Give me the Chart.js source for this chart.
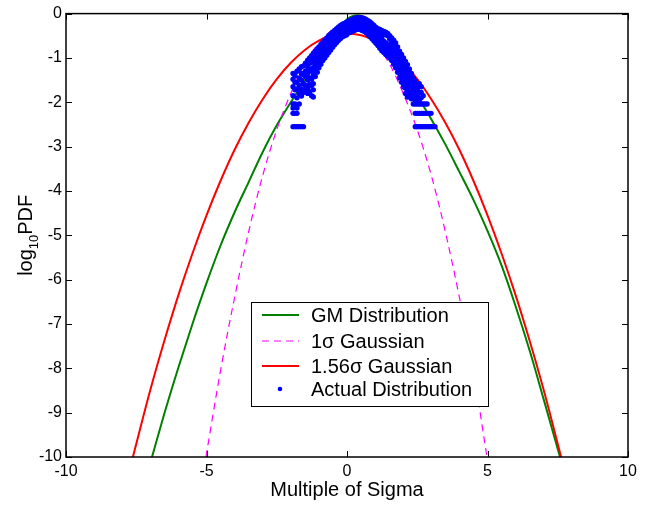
<!DOCTYPE html>
<html>
<head>
<meta charset="utf-8">
<title>log10 PDF vs multiple of sigma</title>
<script src="https://cdn.jsdelivr.net/npm/chart.js@4.4.1/dist/chart.umd.min.js"></script>
<style>
html,body{margin:0;padding:0;background:#fff;}
#wrap{width:652px;height:506px;}
</style>
</head>
<body>
<div id="wrap"><canvas id="chart" width="652" height="506"></canvas></div>
<script>
const xTicks=[-10,-5,0,5,10];
const yTicks=[0,-1,-2,-3,-4,-5,-6,-7,-8,-9,-10];

// GM distribution (green)
const gmX=[-6.94,-6.5,-6,-5.5,-5,-4.5,-4,-3.5,-3,-2.5,-2,-1.5,-1,-0.5,0,0.4,0.8,1.2,1.6,2,2.5,3,3.5,4,4.5,5,5.5,6,6.5,7,7.58];
const gmY=[-10,-9.02,-7.98,-7.0,-6.08,-5.23,-4.48,-3.8,-3.12,-2.52,-2.0,-1.5,-1.0,-0.5,-0.13,-0.04,-0.17,-0.5,-0.93,-1.35,-1.86,-2.38,-2.95,-3.57,-4.2,-4.9,-5.68,-6.6,-7.6,-8.7,-10];

// 1 sigma gaussian (magenta dashed)
const g1X=[-5.02,-4.5,-4,-3.5,-3,-2.5,-2,-1.5,-1,-0.5,0,0.5,1,1.5,2,2.5,3,3.5,4,4.5,4.98];
const g1Y=[-10,-8.05,-6.4,-4.92,-3.65,-2.62,-1.8,-1.12,-0.66,-0.36,-0.25,-0.36,-0.66,-1.12,-1.8,-2.62,-3.65,-4.92,-6.4,-8.05,-10];

// 1.56 sigma gaussian (red)
const g156X=[-7.62,-7,-6.5,-6,-5.5,-5,-4.5,-4,-3.5,-3,-2.5,-2,-1.5,-1,-0.5,0,0.5,1,1.5,2,2.5,3,3.5,4,4.5,5,5.5,6,6.5,7,7.62];
const g156Y=[-10,-8.49,-7.38,-6.35,-5.41,-4.55,-3.77,-3.07,-2.46,-1.93,-1.48,-1.11,-0.82,-0.61,-0.49,-0.45,-0.49,-0.61,-0.82,-1.11,-1.48,-1.93,-2.46,-3.07,-3.77,-4.55,-5.41,-6.35,-7.38,-8.49,-10];

// actual distribution (blue dots), one x column with its y values
const actualColX=[-1.92,-1.85,-1.78,-1.70,-1.62,-1.55,-1.48,-1.40,-1.33,-1.26,-1.20,-1.13,-1.06,-1.00,-0.93,-0.86,-0.79,-0.72,-0.65,-0.58,-0.51,-0.44,-0.37,-0.30,-0.23,-0.16,-0.09,-0.02,0.05,0.12,0.19,0.26,0.33,0.40,0.47,0.54,0.61,0.68,0.75,0.82,0.89,0.96,1.03,1.10,1.17,1.24,1.31,1.38,1.45,1.52,1.59,1.66,1.73,1.80,1.87,1.94,2.01,2.08,2.15,2.22,2.29,2.36,2.43,2.50,2.57,2.64,2.71,2.78,2.85,2.92,2.99,3.06,3.13];
const actualColY=[
  [-1.35,-1.48,-1.65,-1.85,-2.04,-2.13,-2.25,-2.55],
  [-1.40,-1.55,-1.72,-2.04,-2.25,-2.55],
  [-1.30,-1.55,-1.70,-1.90,-2.13,-2.25,-2.55],
  [-1.25,-1.45,-1.62,-1.80,-2.04,-2.55],
  [-1.20,-1.35,-1.50,-1.70,-1.86,-2.55],
  [-1.18,-1.38,-1.58,-1.78,-2.55],
  [-1.12,-1.30,-1.42,-1.62,-1.72],
  [-1.05,-1.20,-1.35,-1.50,-1.66,-1.80],
  [-1.00,-1.12,-1.25,-1.45,-1.60,-1.75],
  [-0.95,-1.05,-1.30,-1.48,-1.62,-1.85],
  [-0.90,-1.10,-1.22,-1.40,-1.58,-1.72,-1.88],
  [-0.85,-1.00,-1.15,-1.30,-1.42],
  [-0.80,-0.92,-1.05,-1.20,-1.32],
  [-0.75,-0.85,-0.98,-1.12,-1.22],
  [-0.70,-0.80,-0.92,-1.04,-1.14],
  [-0.65,-0.74,-0.86,-0.97,-1.06],
  [-0.60,-0.68,-0.80,-0.92,-1.00],
  [-0.55,-0.62,-0.73,-0.85,-0.94],
  [-0.50,-0.58,-0.68,-0.78,-0.88],
  [-0.46,-0.53,-0.63,-0.73,-0.82],
  [-0.42,-0.50,-0.58,-0.68,-0.76],
  [-0.38,-0.44,-0.53,-0.62,-0.70],
  [-0.34,-0.40,-0.48,-0.56,-0.65],
  [-0.30,-0.37,-0.45,-0.52,-0.60],
  [-0.27,-0.33,-0.40,-0.48,-0.56],
  [-0.24,-0.30,-0.37,-0.44,-0.52],
  [-0.22,-0.27,-0.33,-0.41,-0.50],
  [-0.20,-0.25,-0.30,-0.38,-0.48],
  [-0.17,-0.22,-0.28,-0.34,-0.44],
  [-0.15,-0.19,-0.25,-0.32,-0.42],
  [-0.13,-0.17,-0.23,-0.30,-0.40],
  [-0.11,-0.15,-0.21,-0.28,-0.38],
  [-0.10,-0.14,-0.20,-0.27,-0.36],
  [-0.09,-0.12,-0.19,-0.26,-0.35],
  [-0.09,-0.12,-0.18,-0.27,-0.36],
  [-0.10,-0.13,-0.20,-0.28,-0.38],
  [-0.11,-0.15,-0.22,-0.30,-0.40],
  [-0.13,-0.17,-0.25,-0.33,-0.43],
  [-0.16,-0.20,-0.28,-0.37,-0.47],
  [-0.19,-0.24,-0.32,-0.40,-0.52],
  [-0.23,-0.28,-0.36,-0.45,-0.57],
  [-0.27,-0.32,-0.41,-0.50,-0.62],
  [-0.31,-0.36,-0.45,-0.56,-0.67],
  [-0.34,-0.40,-0.50,-0.62,-0.72],
  [-0.36,-0.42,-0.55,-0.66,-0.78],
  [-0.38,-0.45,-0.58,-0.72,-0.84],
  [-0.40,-0.48,-0.62,-0.76,-0.88],
  [-0.42,-0.47,-0.66,-0.79,-0.92],
  [-0.45,-0.50,-0.70,-0.82,-0.96],
  [-0.50,-0.58,-0.74,-0.86,-1.00],
  [-0.55,-0.64,-0.80,-0.92,-1.06],
  [-0.60,-0.70,-0.86,-0.98,-1.14],
  [-0.66,-0.76,-0.92,-1.04,-1.22],
  [-0.75,-0.85,-1.00,-1.12,-1.32],
  [-0.85,-0.95,-1.08,-1.22,-1.35,-1.45],
  [-0.92,-1.02,-1.16,-1.30,-1.45,-1.55],
  [-1.00,-1.08,-1.25,-1.40,-1.55,-1.65],
  [-1.08,-1.18,-1.32,-1.50,-1.68,-1.80],
  [-1.15,-1.28,-1.42,-1.58,-1.74,-1.88],
  [-1.25,-1.35,-1.50,-1.66,-1.82],
  [-1.35,-1.45,-1.60,-1.78,-1.92],
  [-1.45,-1.55,-1.70,-1.88,-2.04],
  [-1.52,-1.62,-1.80,-1.95,-2.04,-2.25,-2.55],
  [-1.60,-1.70,-1.85,-2.04,-2.25,-2.55],
  [-1.58,-1.78,-1.95,-2.04,-2.25,-2.55],
  [-1.65,-1.78,-1.90,-2.04,-2.25,-2.55],
  [-1.85,-2.04,-2.25,-2.55],
  [-2.04,-2.25,-2.55],
  [-2.04,-2.25,-2.55],
  [-2.25,-2.55],
  [-2.25,-2.55],
  [-2.55],
  [-2.55]
];

const FONT="'Liberation Sans', Arial, Helvetica, sans-serif";

function pts(xs,ys){return xs.map((x,i)=>({x:x,y:ys[i]}));}
const actualPts=[];
actualColX.forEach((x,i)=>actualColY[i].forEach(y=>actualPts.push({x:x,y:y})));

// white background, box and inward ticks like matlab
const frame={
  id:"frame",
  beforeDraw(chart){
    const ctx=chart.ctx;
    ctx.save();ctx.fillStyle="#fff";ctx.fillRect(0,0,chart.width,chart.height);ctx.restore();
  },
  afterDatasetsDraw(chart){
    const {ctx,chartArea:a,scales:{x,y}}=chart;
    ctx.save();
    ctx.strokeStyle="#000";
    ctx.lineWidth=1;
    ctx.beginPath();
    x.ticks.forEach(t=>{
      const px=Math.round(x.getPixelForValue(t.value))+0.5;
      ctx.moveTo(px,a.bottom);ctx.lineTo(px,a.bottom-6);
      ctx.moveTo(px,a.top);ctx.lineTo(px,a.top+6);
    });
    y.ticks.forEach(t=>{
      const py=Math.round(y.getPixelForValue(t.value))+0.5;
      ctx.moveTo(a.left,py);ctx.lineTo(a.left+6,py);
      ctx.moveTo(a.right,py);ctx.lineTo(a.right-6,py);
    });
    ctx.stroke();
    ctx.lineWidth=1.5;
    ctx.strokeRect(a.left,a.top,a.right-a.left,a.bottom-a.top);
    ctx.restore();
  }
};

// y title with subscript and the legend box
const extras={
  id:"extras",
  afterDraw(chart){
    const ctx=chart.ctx;
    const a=chart.chartArea;
    ctx.save();
    ctx.fillStyle="#000";
    ctx.textBaseline="alphabetic";
    const big="20px "+FONT, small="13px "+FONT;
    ctx.font=big;const w1=ctx.measureText("log").width;const w3=ctx.measureText("PDF").width;
    ctx.font=small;const w2=ctx.measureText("10").width;
    const total=w1+w2+w3;
    ctx.translate(32,(a.top+a.bottom)/2);
    ctx.rotate(-Math.PI/2);
    let sx=-total/2;
    ctx.font=big;ctx.fillText("log",sx,0);sx+=w1;
    ctx.font=small;ctx.fillText("10",sx,6);sx+=w2;
    ctx.font=big;ctx.fillText("PDF",sx,0);
    ctx.restore();

    // legend
    const L=251,T=302,R=488,B=406;
    ctx.save();
    ctx.fillStyle="#fff";ctx.fillRect(L,T,R-L,B-T);
    ctx.strokeStyle="#000";ctx.lineWidth=1;
    ctx.strokeRect(L+0.5,T+0.5,R-L,B-T);
    const rows=[315,341,366,389];
    ctx.font="20px "+FONT;
    ctx.textBaseline="middle";
    chart.data.datasets.forEach((ds,i)=>{
      const yy=rows[i];
      if(ds.showLine){
        ctx.beginPath();
        ctx.strokeStyle=ds.borderColor;
        ctx.lineWidth=ds.borderWidth;
        ctx.setLineDash(ds.borderDash||[]);
        ctx.moveTo(262,yy);ctx.lineTo(299,yy);
        ctx.stroke();
        ctx.setLineDash([]);
      }else{
        ctx.beginPath();
        ctx.fillStyle=ds.backgroundColor;
        ctx.arc(280,yy,2.3,0,Math.PI*2);
        ctx.fill();
      }
      ctx.fillStyle="#000";
      ctx.fillText(ds.label,311,yy+1);
    });
    ctx.restore();
  }
};

new Chart(document.getElementById("chart"),{
  type:"scatter",
  data:{
    datasets:[
      {label:"GM Distribution",data:pts(gmX,gmY),showLine:true,borderColor:"#008000",borderWidth:2,pointRadius:0,cubicInterpolationMode:"monotone",order:4},
      {label:"1\u03c3 Gaussian",data:pts(g1X,g1Y),showLine:true,borderColor:"#ff00ff",borderWidth:1.2,borderDash:[7,5],pointRadius:0,cubicInterpolationMode:"monotone",order:3},
      {label:"1.56\u03c3 Gaussian",data:pts(g156X,g156Y),showLine:true,borderColor:"#ff0000",borderWidth:2,pointRadius:0,cubicInterpolationMode:"monotone",order:2},
      {label:"Actual Distribution",data:actualPts,showLine:false,backgroundColor:"#0000ff",borderWidth:0,pointRadius:2.7,order:1}
    ]
  },
  options:{
    responsive:false,
    animation:false,
    events:[],
    layout:{padding:{left:0,top:12,right:24,bottom:0}},
    plugins:{legend:{display:false},tooltip:{enabled:false}},
    scales:{
      x:{
        type:"linear",min:-10,max:10,
        afterBuildTicks:s=>{s.ticks=xTicks.map(v=>({value:v}));},
        afterFit:s=>{s.height=49;},
        grid:{display:false,drawTicks:false},
        border:{display:false},
        ticks:{color:"#000",font:{family:FONT,size:16},padding:5,maxRotation:0},
        title:{display:true,text:"Multiple of Sigma",color:"#000",font:{family:FONT,size:20},padding:{top:0,bottom:4}}
      },
      y:{
        type:"linear",min:-10,max:0,
        afterBuildTicks:s=>{s.ticks=yTicks.map(v=>({value:v}));},
        afterFit:s=>{s.width=66;},
        grid:{display:false,drawTicks:false},
        border:{display:false},
        ticks:{color:"#000",font:{family:FONT,size:16},padding:4}
      }
    }
  },
  plugins:[frame,extras]
});
</script>
</body>
</html>
